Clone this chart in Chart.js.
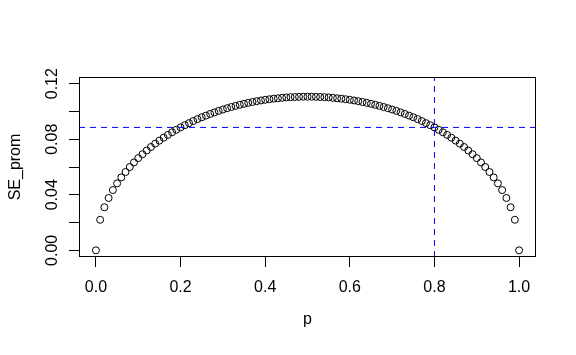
<!DOCTYPE html>
<html>
<head>
<meta charset="utf-8">
<script src="https://cdn.jsdelivr.net/npm/chart.js@4/dist/chart.umd.min.js"></script>
<style>
  html, body { margin: 0; padding: 0; background: #fff; }
  #wrap { width: 576px; height: 355px; }
</style>
</head>
<body>
<div id="wrap"><canvas id="seChart" width="576" height="355"></canvas></div>
<script>
// p on the x axis
const pValues = [
  0.00, 0.01, 0.02, 0.03, 0.04, 0.05, 0.06, 0.07, 0.08, 0.09,
  0.10, 0.11, 0.12, 0.13, 0.14, 0.15, 0.16, 0.17, 0.18, 0.19,
  0.20, 0.21, 0.22, 0.23, 0.24, 0.25, 0.26, 0.27, 0.28, 0.29,
  0.30, 0.31, 0.32, 0.33, 0.34, 0.35, 0.36, 0.37, 0.38, 0.39,
  0.40, 0.41, 0.42, 0.43, 0.44, 0.45, 0.46, 0.47, 0.48, 0.49,
  0.50, 0.51, 0.52, 0.53, 0.54, 0.55, 0.56, 0.57, 0.58, 0.59,
  0.60, 0.61, 0.62, 0.63, 0.64, 0.65, 0.66, 0.67, 0.68, 0.69,
  0.70, 0.71, 0.72, 0.73, 0.74, 0.75, 0.76, 0.77, 0.78, 0.79,
  0.80, 0.81, 0.82, 0.83, 0.84, 0.85, 0.86, 0.87, 0.88, 0.89,
  0.90, 0.91, 0.92, 0.93, 0.94, 0.95, 0.96, 0.97, 0.98, 0.99,
  1.00
];

// SE_prom
const seProm = [
  0.0000, 0.0220, 0.0310, 0.0377, 0.0434, 0.0482, 0.0525, 0.0564, 0.0600, 0.0633,
  0.0664, 0.0692, 0.0719, 0.0744, 0.0768, 0.0790, 0.0811, 0.0831, 0.0850, 0.0868,
  0.0885, 0.0901, 0.0916, 0.0931, 0.0945, 0.0958, 0.0970, 0.0982, 0.0993, 0.1004,
  0.1014, 0.1023, 0.1032, 0.1040, 0.1048, 0.1055, 0.1062, 0.1068, 0.1074, 0.1079,
  0.1084, 0.1088, 0.1092, 0.1095, 0.1098, 0.1101, 0.1103, 0.1104, 0.1105, 0.1106,
  0.1106, 0.1106, 0.1105, 0.1104, 0.1103, 0.1101, 0.1098, 0.1095, 0.1092, 0.1088,
  0.1084, 0.1079, 0.1074, 0.1068, 0.1062, 0.1055, 0.1048, 0.1040, 0.1032, 0.1023,
  0.1014, 0.1004, 0.0993, 0.0982, 0.0970, 0.0958, 0.0945, 0.0931, 0.0916, 0.0901,
  0.0885, 0.0868, 0.0850, 0.0831, 0.0811, 0.0790, 0.0768, 0.0744, 0.0719, 0.0692,
  0.0664, 0.0633, 0.0600, 0.0564, 0.0525, 0.0482, 0.0434, 0.0377, 0.0310, 0.0220,
  0.0000
];

const xTicks = [0, 0.2, 0.4, 0.6, 0.8, 1.0];
const yTicks = [0, 0.02, 0.04, 0.06, 0.08, 0.10, 0.12];
const yLabelled = [0, 0.04, 0.08, 0.12];

// reference lines (abline)
const refP = 0.8;
const refSE = 0.0885;

const xMin = -0.04, xMax = 1.04;
const yMin = -0.0048, yMax = 0.1248;

const baseFont = { family: "'Liberation Sans', Arial, Helvetica, sans-serif", size: 16 };

const boxPlugin = {
    id: 'plotBox',
    afterDraw(chart) {
        const a = chart.chartArea;
        const ctx = chart.ctx;
        ctx.save();
        ctx.strokeStyle = '#000';
        ctx.lineWidth = 1;
        ctx.strokeRect(Math.round(a.left) + 0.5, Math.round(a.top) + 0.5,
            Math.round(a.right - a.left) - 1, Math.round(a.bottom - a.top) - 1);
        ctx.restore();
    }
};

const points = pValues.map((p, i) => ({ x: p, y: seProm[i] }));

new Chart(document.getElementById('seChart'), {
    type: 'scatter',
    data: {
        datasets: [
            {
                data: [{ x: xMin, y: refSE }, { x: xMax, y: refSE }],
                showLine: true,
                borderColor: '#0000ff',
                borderWidth: 1,
                borderDash: [6, 5],
                pointRadius: 0
            },
            {
                data: [{ x: refP, y: yMin }, { x: refP, y: yMax }],
                showLine: true,
                borderColor: '#0000ff',
                borderWidth: 1,
                borderDash: [6, 5],
                pointRadius: 0
            },
            {
                data: points,
                showLine: false,
                pointStyle: 'circle',
                pointRadius: 3.5,
                borderWidth: 1,
                borderColor: '#000',
                backgroundColor: 'rgba(0,0,0,0)'
            }
        ]
    },
    options: {
        responsive: false,
        animation: false,
        devicePixelRatio: 1,
        layout: { padding: { top: 77, right: 40, left: 0, bottom: 0 } },
        plugins: {
            legend: { display: false },
            tooltip: { enabled: false }
        },
        scales: {
            x: {
                type: 'linear',
                min: xMin,
                max: xMax,
                afterBuildTicks: s => { s.ticks = xTicks.map(v => ({ value: v })); },
                afterFit: s => { s.height = 98; },
                ticks: {
                    callback: v => v.toFixed(1),
                    font: baseFont,
                    color: '#000',
                    padding: 11,
                    maxRotation: 0,
                    autoSkip: false
                },
                grid: { drawOnChartArea: false, drawTicks: true, tickLength: 10, color: '#000' },
                border: { display: false },
                title: {
                    display: true,
                    text: 'p',
                    color: '#000',
                    font: baseFont,
                    padding: { top: 0, bottom: 26 }
                }
            },
            y: {
                type: 'linear',
                min: yMin,
                max: yMax,
                afterBuildTicks: s => { s.ticks = yTicks.map(v => ({ value: v })); },
                afterFit: s => { s.width = 79; },
                ticks: {
                    callback: v => yLabelled.some(l => Math.abs(l - v) < 1e-9) ? v.toFixed(2) : '',
                    font: baseFont,
                    color: '#000',
                    padding: 1,
                    minRotation: 90,
                    maxRotation: 90,
                    crossAlign: 'center',
                    autoSkip: false
                },
                grid: { drawOnChartArea: false, drawTicks: true, tickLength: 10, color: '#000' },
                border: { display: false },
                title: {
                    display: true,
                    text: 'SE_prom',
                    color: '#000',
                    font: baseFont,
                    padding: { top: 6, bottom: 0 }
                }
            }
        }
    },
    plugins: [boxPlugin]
});
</script>
</body>
</html>
